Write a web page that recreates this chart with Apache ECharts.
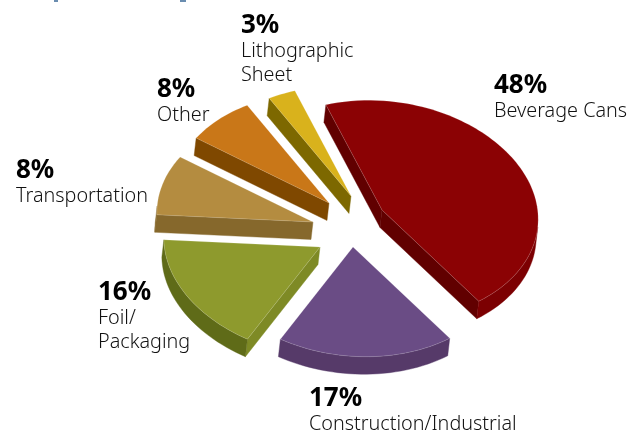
<!DOCTYPE html>
<html>
<head>
<meta charset="utf-8">
<style>html,body{margin:0;padding:0;background:#fff}#chart{width:638px;height:431px}</style>
<script src="https://cdn.jsdelivr.net/npm/echarts@6/dist/echarts.min.js"></script>
</head>
<body>
<div id="chart"></div>
<script>
// Market shares, clockwise from the top of the pie
const categories = ['Beverage Cans', 'Construction/Industrial', 'Foil/\nPackaging', 'Transportation', 'Other', 'Lithographic\nSheet'];
const shares = [48, 17, 16, 8, 8, 3];

// Colours of each wedge: top face, straight wall, curved wall
const topColors = ['#8b0204', '#6a4c85', '#8e9a2d', '#b48c40', '#c97718', '#d9b21c'];
const edgeColors = ['#610000', '#563a69', '#7e8a25', '#86682c', '#7f4800', '#7d6800'];
const rimColors = ['#7c0002', '#563a69', '#5f6b18', '#86682c', '#7f4800', '#7d6800'];

// Where each exploded wedge's tip sits, and where its caption starts
const tips = [[382, 210], [353, 247], [320, 247], [313, 222], [329, 203], [351, 196]];
const captions = [[494, 86], [309, 399], [98, 293], [16, 171], [157, 90], [241, 26]];

// Pie projection: ellipse radii and lean, wall height vector, perspective warp of the angles.
// Wedges near the far side of the pie (around BACK degrees) look a little narrower.
const RX = 158, RY = 111, RADIUS_BASE = 0.985, RADIUS_LEAN = 0.042;
const DROP = [-2, 17.5];
const START = -112, WARP_AMP = 7.5, WARP_PHASE = 168;
const BACK = 357, BACK_AMP = 6, BACK_SPREAD = 20;
const FONT = '"Noto Sans", "Open Sans", sans-serif';

const rad = d => d * Math.PI / 180;
const total = shares.reduce((a, b) => a + b, 0);

function projected(theta) {
  const off = ((theta - BACK + 540) % 360) - 180;
  return START + theta
    - WARP_AMP * Math.cos(rad(theta - WARP_PHASE))
    - BACK_AMP * Math.exp(-(off * off) / (BACK_SPREAD * BACK_SPREAD));
}

function wedgeAngles(index) {
  const before = shares.slice(0, index).reduce((a, b) => a + b, 0);
  return [before, before + shares[index]].map(v => v / total * 360);
}

const shifted = p => [p[0] + DROP[0], p[1] + DROP[1]];

function wall(outline, fill) {
  return {
    type: 'polygon',
    shape: { points: outline.concat(outline.slice().reverse().map(shifted)) },
    style: { fill, stroke: fill, lineWidth: 0.4 },
    silent: true
  };
}

// A wall shows only when the drop vector leaves the face through that edge
function faces(a, b) {
  const ex = b[0] - a[0], ey = b[1] - a[1];
  return ex * DROP[1] - ey * DROP[0] < 0;
}

function renderWedge(params, api) {
  const i = params.dataIndex;
  const [from, to] = wedgeAngles(i);
  const tip = tips[i];
  const steps = Math.max(8, Math.round((to - from) / 2));
  const arc = [];
  for (let s = 0; s <= steps; s++) {
    const t = rad(projected(from + (to - from) * s / steps));
    const r = RADIUS_BASE + RADIUS_LEAN * Math.sin(2 * t);
    arc.push([tip[0] + r * RX * Math.cos(t), tip[1] + r * RY * Math.sin(t)]);
  }
  const children = [];
  // Outline runs clockwise on screen: tip, along the arc, back to the tip
  if (faces(tip, arc[0])) children.push(wall([tip, arc[0]], edgeColors[i]));
  if (faces(arc[steps], tip)) children.push(wall([arc[steps], tip], edgeColors[i]));
  const rim = arc.filter((p, s) => (s < steps && faces(p, arc[s + 1])) || (s > 0 && faces(arc[s - 1], p)));
  if (rim.length > 1) children.push(wall(rim, rimColors[i]));
  children.push({
    type: 'polygon',
    shape: { points: [tip].concat(arc) },
    style: { fill: topColors[i], stroke: 'rgba(255,255,255,0.28)', lineWidth: 0.6 },
    silent: true
  });

  // Caption: bold share, then the category name over one or two lines
  const [cx, cy] = captions[i];
  children.push({
    type: 'text',
    style: { text: api.value(0) + '%', x: cx, y: cy, font: 'bold 26px ' + FONT, fill: '#000', verticalAlign: 'middle' },
    silent: true
  });
  categories[i].split('\n').forEach((line, n) => {
    children.push({
      type: 'text',
      style: { text: line, x: cx, y: cy + 25 + n * 24, font: '300 19.8px ' + FONT, fill: '#111', verticalAlign: 'middle' },
      silent: true
    });
  });
  return { type: 'group', children };
}

const chart = echarts.init(document.getElementById('chart'), null, { renderer: 'canvas' });
chart.setOption({
  animation: false,
  backgroundColor: '#fff',
  graphic: [
    // Tails of the heading cut off by the top edge
    { type: 'rect', shape: { x: 54, y: 0, width: 4, height: 2 }, style: { fill: '#6a8db0' }, silent: true },
    { type: 'rect', shape: { x: 180, y: 0, width: 6, height: 2 }, style: { fill: '#6a8db0' }, silent: true }
  ],
  series: [{
    type: 'custom',
    coordinateSystem: 'none',
    renderItem: renderWedge,
    data: shares.map((v, i) => ({ name: categories[i], value: [v] }))
  }]
});
</script>
</body>
</html>
